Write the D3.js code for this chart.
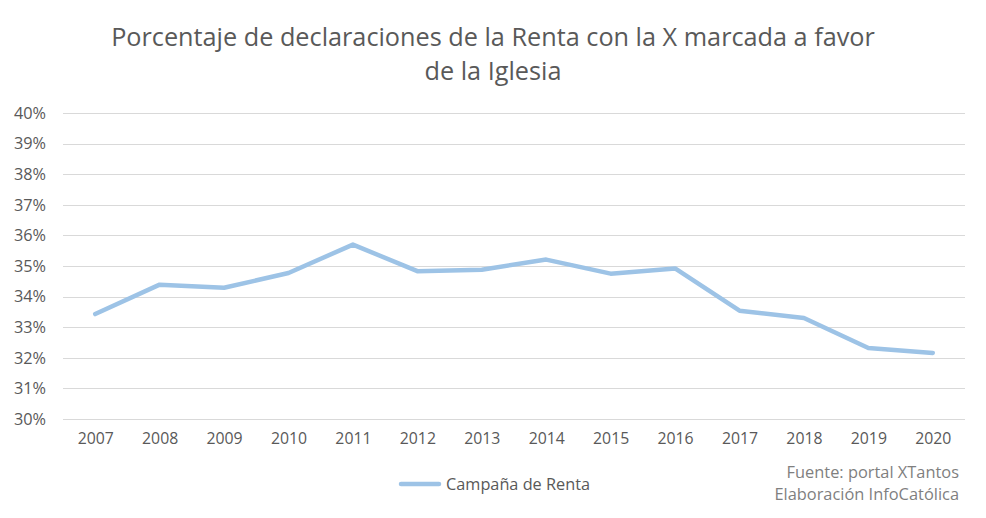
<!DOCTYPE html>
<html><head><meta charset="utf-8">
<script src="https://cdn.jsdelivr.net/npm/d3@7"></script>
<style>body{margin:0;background:#fff}svg{display:block}text{font-family:"Open Sans","Noto Sans",sans-serif}</style>
</head><body><svg id="c" width="986" height="518"></svg>
<script>
const years = ["2007","2008","2009","2010","2011","2012","2013","2014","2015","2016","2017","2018","2019","2020"];
const values = [33.43,34.39,34.29,34.77,35.70,34.83,34.88,35.21,34.75,34.92,33.54,33.30,32.32,32.16];
const yTicks = [30,31,32,33,34,35,36,37,38,39,40];
const titleLines = ["Porcentaje de declaraciones de la Renta con la X marcada a favor","de la Iglesia"];
const seriesName = "Campaña de Renta";
const sourceLines = ["Fuente: portal XTantos","Elaboración InfoCatólica"];

const svg = d3.select("#c");
const W=986,H=518;
const m={l:63,r:21,t:113,b:99};
const x=d3.scalePoint().domain(years).range([m.l,W-m.r]).padding(0.5);
const y=d3.scaleLinear().domain([30,40]).range([H-m.b,m.t]);

// gridlines
svg.append("g").selectAll("line").data(yTicks).join("line")
  .attr("x1",m.l).attr("x2",W-m.r).attr("y1",d=>Math.round(y(d))+0.5).attr("y2",d=>Math.round(y(d))+0.5)
  .attr("stroke","#d9d9d9").attr("stroke-width",1);

// y axis
const ya=svg.append("g").attr("transform",`translate(${m.l},0)`)
  .call(d3.axisLeft(y).tickValues(yTicks).tickFormat(d=>d+"%").tickSize(0).tickPadding(17));
ya.select(".domain").remove();
ya.selectAll("text").attr("fill","#595959").style("font-size","16.3px").style("font-family",'"Open Sans",sans-serif');

// x axis
const xa=svg.append("g").attr("transform",`translate(0,${H-m.b})`)
  .call(d3.axisBottom(x).tickSize(0).tickPadding(14));
xa.select(".domain").remove();
xa.selectAll("text").attr("fill","#595959").style("font-size","15.8px").style("font-family",'"Open Sans",sans-serif');

// line
svg.append("path").datum(values.map((v,i)=>[years[i],v]))
  .attr("fill","none").attr("stroke","#9dc3e6").attr("stroke-width",4.5)
  .attr("stroke-linejoin","round").attr("stroke-linecap","round")
  .attr("d",d3.line().x(d=>x(d[0])).y(d=>y(d[1])));

// title
const tt=svg.append("g");
titleLines.forEach((t,i)=>{
  tt.append("text").attr("x",493).attr("y",46+i*34).attr("text-anchor","middle")
    .attr("fill","#595959").style("font-size","24px").text(t);
});
const t0=tt.select("text").node();
const w0=t0.getComputedTextLength();
const fs=24*764/w0;
tt.selectAll("text").style("font-size",fs+"px");

// legend
svg.append("line").attr("x1",401).attr("x2",439).attr("y1",484).attr("y2",484)
  .attr("stroke","#9dc3e6").attr("stroke-width",4.5).attr("stroke-linecap","round");
svg.append("text").attr("x",446).attr("y",490).attr("fill","#595959").style("font-size","16.3px").text(seriesName);

// source
sourceLines.forEach((t,i)=>{
  svg.append("text").attr("x",959).attr("y",478+i*22).attr("text-anchor","end")
    .attr("fill","#7f7f7f").style("font-size","16.4px").text(t);
});
</script></body></html>
